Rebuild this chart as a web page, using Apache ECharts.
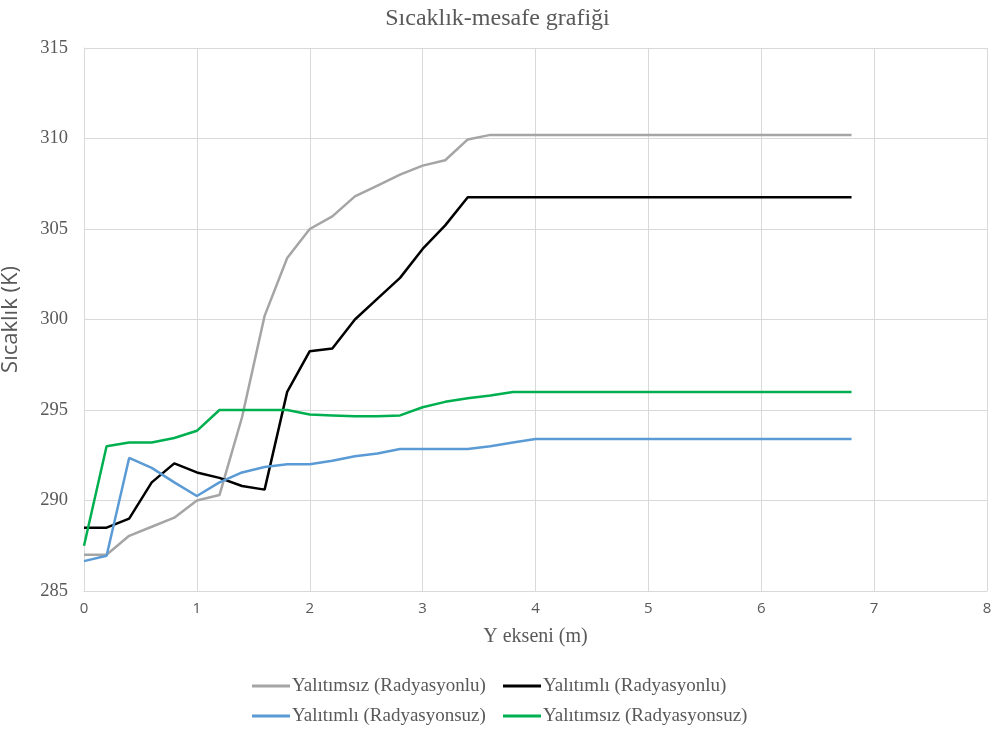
<!DOCTYPE html>
<html>
<head>
<meta charset="utf-8">
<script src="https://cdn.jsdelivr.net/npm/echarts@6/dist/echarts.min.js"></script>
<style>html,body{margin:0;padding:0;background:#fff}#c{width:995px;height:735px}</style>
</head>
<body>
<div id="c"></div>
<script>
const xs = [0,0.2,0.4,0.6,0.8,1.0,1.2,1.4,1.6,1.8,2.0,2.2,2.4,2.6,2.8,3.0,3.2,3.4,3.6,3.8,4.0,6.8];
const seriesNames = ['Yalıtımsız (Radyasyonlu)','Yalıtımlı (Radyasyonlu)','Yalıtımlı (Radyasyonsuz)','Yalıtımsız (Radyasyonsuz)'];
const greyVals  = [287.0,287.0,288.05,288.55,289.05,290.0,290.3,294.6,300.2,303.4,305.0,305.7,306.8,307.4,308.0,308.5,308.8,309.95,310.2,310.2,310.2,310.2];
const blackVals = [288.5,288.5,289.0,291.0,292.05,291.55,291.25,290.8,290.6,296.0,298.25,298.4,300.0,301.15,302.3,303.9,305.2,306.75,306.75,306.75,306.75,306.75];
const blueVals  = [286.65,286.95,292.35,291.8,291.0,290.25,291.0,291.55,291.85,292.0,292.0,292.2,292.45,292.6,292.85,292.85,292.85,292.85,293.0,293.2,293.4,293.4];
const greenVals = [287.5,293.0,293.2,293.2,293.45,293.85,295.0,295.0,295.0,295.0,294.75,294.7,294.65,294.65,294.7,295.15,295.45,295.65,295.8,296.0,296.0,296.0];
const colors = ['#A5A5A5','#000000','#5B9BD5','#00B050'];
const allVals = [greyVals, blackVals, blueVals, greenVals];

const serif = '"Liberation Serif","DejaVu Serif",serif';
const sans = '"Open Sans","Noto Sans",sans-serif';
const txt = '#595959';

const chart = echarts.init(document.getElementById('c'));
const series = allVals.map((v,i)=>({
  name: seriesNames[i],
  type: 'line',
  data: xs.map((x,j)=>[x, v[j]]),
  symbol: 'none',
  lineStyle: {color: colors[i], width: 2.5},
  itemStyle: {color: colors[i]},
  animation: false
}));
const legendCommon = {
  orient: 'vertical',
  top: 676,
  padding: 0,
  itemGap: 10,
  itemWidth: 38,
  itemHeight: 3,
  icon: 'rect',
  textStyle: {fontFamily: serif, fontSize: 19, lineHeight: 20, color: txt, padding: [0,0,0,-3]}
};
chart.setOption({
  animation: false,
  title: {
    text: 'Sıcaklık-mesafe grafiği',
    left: 'center', top: 2,
    textStyle: {fontFamily: serif, fontSize: 24, fontWeight: 'normal', color: txt}
  },
  legend: [
    Object.assign({}, legendCommon, {left: 252, data: [seriesNames[0], seriesNames[2]]}),
    Object.assign({}, legendCommon, {left: 503, data: [seriesNames[1], seriesNames[3]]})
  ],
  grid: {left: 84, right: 8, top: 48, bottom: 144, containLabel: false, outerBoundsMode: 'none'},
  xAxis: {
    type: 'value', min: 0, max: 8, interval: 1,
    name: 'Y ekseni (m)', nameLocation: 'middle', nameGap: 36,
    nameTextStyle: {fontFamily: serif, fontSize: 20, color: txt},
    axisLine: {show: true, lineStyle: {color: '#D9D9D9', width: 1}},
    axisTick: {show: false},
    axisLabel: {fontFamily: sans, fontSize: 15, color: txt, margin: 10},
    splitLine: {show: true, lineStyle: {color: '#D9D9D9', width: 1}}
  },
  yAxis: {
    type: 'value', min: 285, max: 315, interval: 5,
    name: 'Sıcaklık (K)', nameLocation: 'middle', nameGap: 62,
    nameTextStyle: {fontFamily: sans, fontSize: 22, color: txt},
    axisLine: {show: true, lineStyle: {color: '#D9D9D9', width: 1}},
    axisTick: {show: false},
    axisLabel: {fontFamily: serif, fontSize: 18.5, color: txt, margin: 16},
    splitLine: {show: true, lineStyle: {color: '#D9D9D9', width: 1}}
  },
  series: series
});
</script>
</body>
</html>
